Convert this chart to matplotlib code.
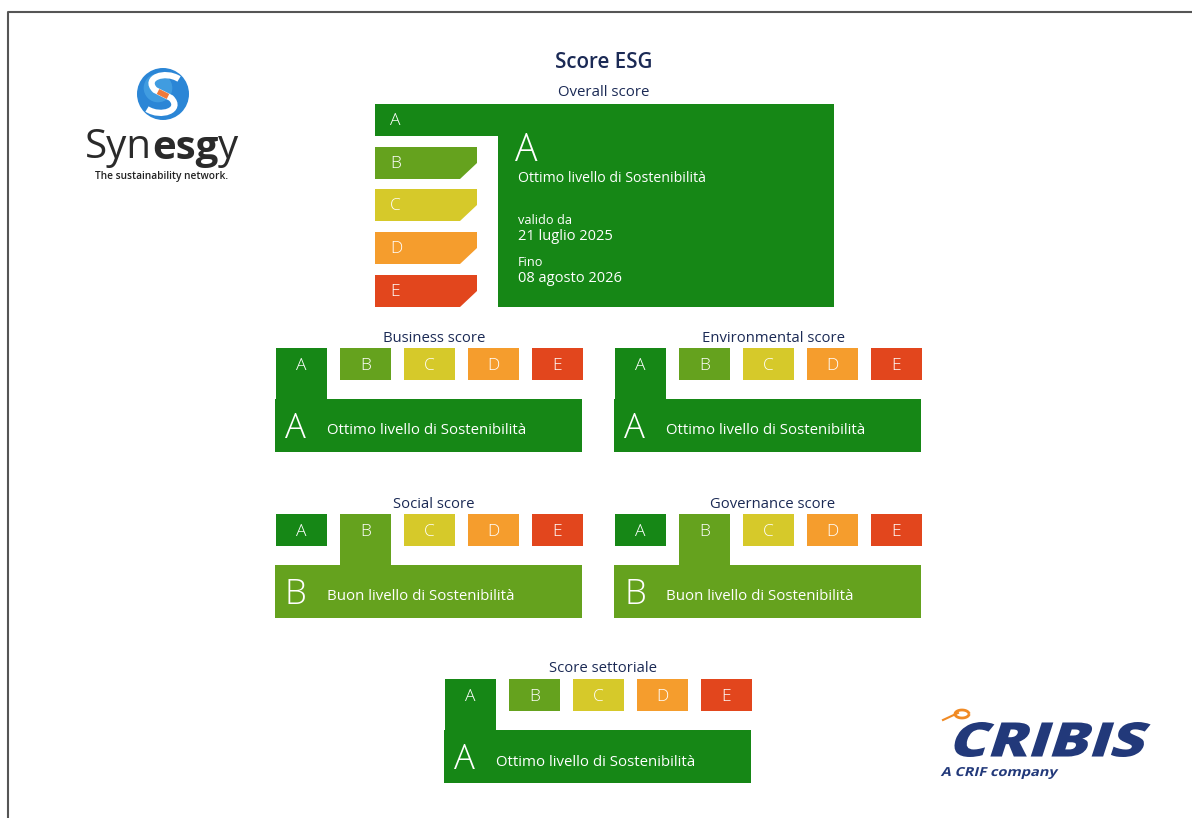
import matplotlib

matplotlib.use("Agg")
import matplotlib.pyplot as plt  # noqa: E402
from matplotlib.patches import Rectangle, Polygon, Circle, PathPatch  # noqa: E402
from matplotlib.path import Path  # noqa: E402
from matplotlib.textpath import TextPath  # noqa: E402
from matplotlib.font_manager import FontProperties  # noqa: E402
from matplotlib.transforms import Affine2D  # noqa: E402
import numpy as np  # noqa: E402

# Dati del grafico
grades = ["A", "B", "C", "D", "E"]
grade_colors = ["#168716", "#65a21e", "#d6c92a", "#f59d2d", "#e2461d"]
level_text = {"A": "Ottimo livello di Sostenibilità", "B": "Buon livello di Sostenibilità"}

overall_grade = "A"
valid_from = "21 luglio 2025"
valid_to = "08 agosto 2026"

panel_titles = ["Business score", "Environmental score", "Social score",
                "Governance score", "Score settoriale"]
panel_grades = ["A", "A", "B", "B", "A"]

NAVY = "#1b2a55"
FONT = "Open Sans"

fig = plt.figure(figsize=(11.92, 8.18), dpi=100)
ax = fig.add_axes([0, 0, 1, 1])
ax.set_xlim(0, 1192)
ax.set_ylim(818, 0)
ax.axis("off")

# cornice (solo lato superiore e sinistro)
ax.plot([7.5, 7.5, 1192], [818, 11.5, 11.5], color="#555555", lw=1.5)

ax.text(604, 62.5, "Score ESG", ha="center", va="center", fontsize=14.8,
        color=NAVY, family=FONT, fontweight="semibold")
ax.text(604, 92, "Overall score", ha="center", va="center", fontsize=10.8,
        color=NAVY, family=FONT)

# ---- blocco overall ----
col = dict(zip(grades, grade_colors))
ax.add_patch(Rectangle((375, 104), 459, 32, color=col[overall_grade], lw=0))
ax.add_patch(Rectangle((498, 136), 336, 171, color=col[overall_grade], lw=0))
ax.text(390, 121, overall_grade, ha="left", va="center", fontsize=12.5,
        color="white", family=FONT, fontweight="light")
ys = [147, 189, 232, 275]
for g, y in zip([g for g in grades if g != overall_grade], ys):
    pts = [(375, y), (477, y), (477, y + 16), (460, y + 32), (375, y + 32)]
    ax.add_patch(Polygon(pts, closed=True, color=col[g], lw=0))
    ax.text(390, y + 17, g, ha="left", va="center", fontsize=12.5,
            color="white", family=FONT, fontweight="light")

ax.text(515, 151, overall_grade, ha="left", va="center", fontsize=27,
        color="white", family=FONT, fontweight="light")
ax.text(518, 179, level_text[overall_grade], ha="left", va="center",
        fontsize=10.2, color="white", family=FONT)
ax.text(518, 220, "valido da", ha="left", va="center", fontsize=9.2,
        color="white", family=FONT)
ax.text(518, 237, valid_from, ha="left", va="center", fontsize=10.5,
        color="white", family=FONT)
ax.text(518, 262, "Fino", ha="left", va="center", fontsize=9.2,
        color="white", family=FONT)
ax.text(518, 279, valid_to, ha="left", va="center", fontsize=10.5,
        color="white", family=FONT)


# ---- pannelli piccoli ----
def panel(x0, ytitle, title, grade):
    ytop = ytitle + 12
    ax.text(x0 + 159, ytitle + 2, title, ha="center", va="center",
            fontsize=10.7, color=NAVY, family=FONT)
    for i, g in enumerate(grades):
        bx = x0 + 1 + i * 64
        h = 51 if g == grade else 32
        ax.add_patch(Rectangle((bx, ytop), 51, h, color=col[g], lw=0))
        ax.text(bx + 25.5, ytop + 18, g, ha="center", va="center",
                fontsize=12.5, color="white", family=FONT, fontweight="light")
    ax.add_patch(Rectangle((x0, ytop + 51), 307, 53, color=col[grade], lw=0))
    ax.text(x0 + 10, ytop + 81, grade, ha="left", va="center", fontsize=25,
            color="white", family=FONT, fontweight="light")
    ax.text(x0 + 52, ytop + 83, level_text[grade], ha="left", va="center",
            fontsize=10.8, color="white", family=FONT)


origins = [(275, 336), (614, 336), (275, 502), (614, 502), (444, 667)]
for (x0, yt), t, g in zip(origins, panel_titles, panel_grades):
    panel(x0, yt, t, g)

# ---- logo Synesgy ----
cx, cy, r = 163, 94, 26
ax.add_patch(Circle((cx, cy), r, color="#2b86d6", lw=0))
ax.add_patch(Circle((cx - 5, cy - 6), r * 0.55, color="#5bb8ee", lw=0, alpha=0.45))
s_verts = [(cx + 16, cy - 15), (cx + 2, cy - 24), (cx - 20, cy - 16), (cx - 8, cy - 4),
           (cx + 8, cy + 4),
           (cx + 20, cy + 16), (cx - 2, cy + 24), (cx - 16, cy + 15)]
s_codes = [Path.MOVETO, Path.CURVE4, Path.CURVE4, Path.CURVE4, Path.LINETO,
           Path.CURVE4, Path.CURVE4, Path.CURVE4]
ax.add_patch(PathPatch(Path(s_verts, s_codes), fill=False, edgecolor="white",
                       lw=4.5, capstyle="butt"))
ax.plot([cx - 5, cx + 5], [cy - 2.5, cy + 2.5], color="#f07a3a", lw=4,
        solid_capstyle="butt")

renderer = fig.canvas.get_renderer()
x = 85
for part, w in [("Syn", "normal"), ("esg", "bold"), ("y", "normal")]:
    tt = ax.text(x, 148, part, ha="left", va="center", fontsize=29,
                 color="#2a2a2a", family=FONT, fontweight=w)
    bb = tt.get_window_extent(renderer)
    x += bb.width * 1192 / fig.bbox.width
ax.text(162, 177, "The sustainability network.", ha="center", va="center",
        fontsize=7.3, color="#222222", family=FONT, fontweight="semibold")


# ---- logo CRIBIS ----
def stretched_text(s, x, y_bottom, width, height, skew, color, weight):
    tp = TextPath((0, 0), s, size=100, prop=FontProperties(family=FONT, weight=weight))
    ext = tp.get_extents()
    tr = (Affine2D().translate(-ext.x0, -ext.y0)
          .scale(width / ext.width, -height / ext.height)
          .skew_deg(skew, 0).translate(x, y_bottom))
    ax.add_patch(PathPatch(tr.transform_path(tp), color=color, lw=0))


stretched_text("CRIBIS", 950, 757, 190, 35, -18, "#22397a", "heavy")
stretched_text("A CRIF company", 940, 779, 116, 12, -14, "#22397a", "bold")
a = np.linspace(0.3, 1.9 * np.pi, 40)
ax.plot(962 + 7 * np.cos(a), 714 + 4 * np.sin(a), color="#f08a24", lw=2)
ax.plot([943, 958], [720, 713], color="#f08a24", lw=1.5)

fig.savefig("out.png", dpi=100)
